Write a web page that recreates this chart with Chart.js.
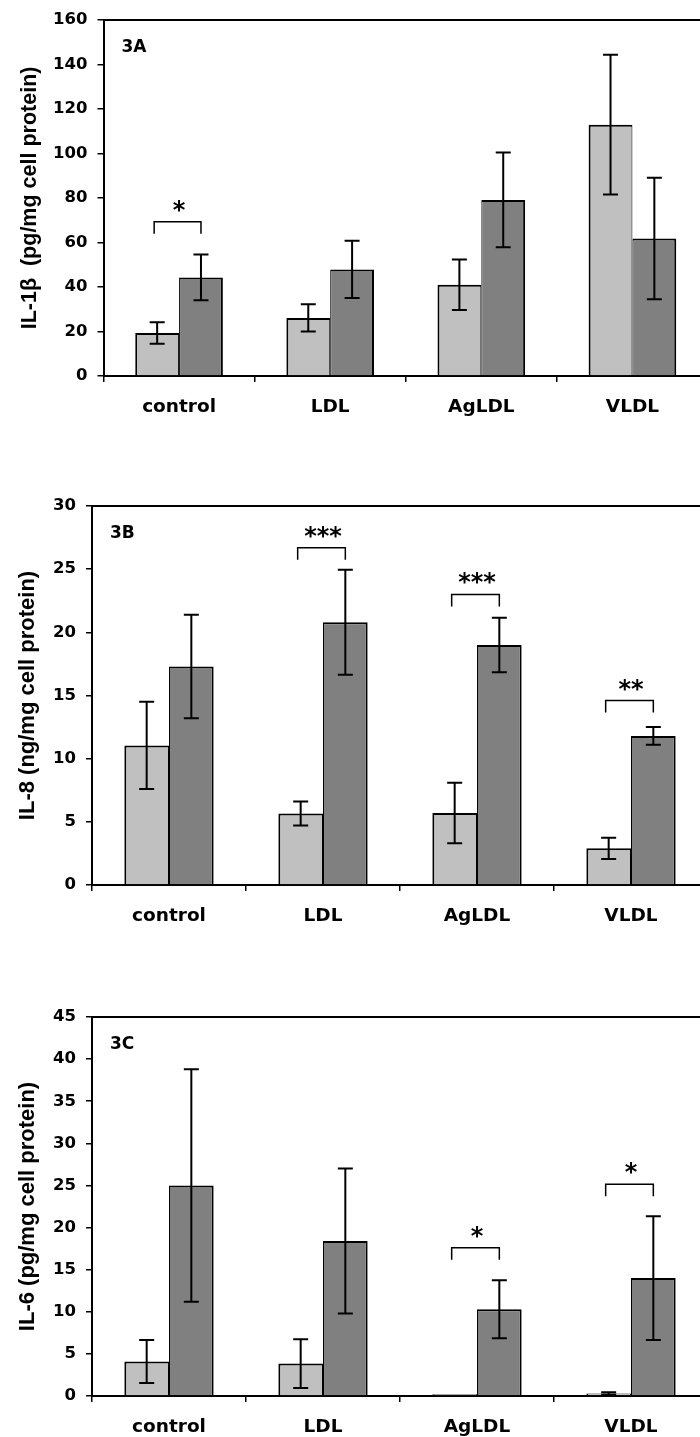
<!DOCTYPE html>
<html>
<head>
<meta charset="utf-8">
<script src="https://cdn.jsdelivr.net/npm/chart.js@4.4.0/dist/chart.umd.min.js"></script>
<style>
  html, body { margin: 0; padding: 0; background: #fff; overflow: hidden; width: 700px; height: 1437px; }
  canvas { position: absolute; left: 0; }
</style>
</head>
<body>
<canvas id="il1b" width="712" height="440" style="top:0px"></canvas>
<canvas id="il8" width="712" height="480" style="top:460px"></canvas>
<canvas id="il6" width="712" height="477" style="top:960px"></canvas>
<script>
const categories = ['control', 'LDL', 'AgLDL', 'VLDL'];

// 3A  IL-1beta
const il1bLight = [19.3, 26.1, 41.0, 112.9];
const il1bLightErr = [4.8, 6.1, 11.4, 31.4];
const il1bDark = [44.3, 47.9, 79.1, 61.8];
const il1bDarkErr = [10.3, 12.9, 21.3, 27.3];
const il1bStars = ['*', '', '', ''];
const il1bBracket = [69.3, null, null, null];

// 3B  IL-8
const il8Light = [11.05, 5.65, 5.7, 2.9];
const il8LightErr = [3.45, 0.95, 2.4, 0.85];
const il8Dark = [17.3, 20.8, 19.0, 11.8];
const il8DarkErr = [4.1, 4.15, 2.15, 0.7];
const il8Stars = ['', '***', '***', '**'];
const il8Bracket = [null, 26.7, 23.0, 14.6];

// 3C  IL-6
const il6Light = [4.1, 3.85, 0.2, 0.3];
const il6LightErr = [2.55, 2.9, 0, 0.15];
const il6Dark = [25.0, 18.4, 10.3, 14.0];
const il6DarkErr = [13.8, 8.6, 3.45, 7.35];
const il6Stars = ['', '', '*', '*'];
const il6Bracket = [null, null, 17.6, 25.15];

Chart.defaults.font.family = '"DejaVu Sans", sans-serif';
Chart.defaults.font.weight = 'bold';
Chart.defaults.color = '#000';

// frame line, error bars, significance brackets and panel label
function extras(stars, brackets, panel) {
  return {
    id: 'extras',
    afterDatasetsDraw(chart) {
      const ctx = chart.ctx;
      const area = chart.chartArea;
      const y = chart.scales.y;
      ctx.save();
      ctx.strokeStyle = '#000';
      ctx.fillStyle = '#000';

      ctx.lineWidth = 2;
      ctx.beginPath();
      ctx.moveTo(area.left, area.top);
      ctx.lineTo(area.right, area.top);
      ctx.stroke();

      ctx.lineWidth = 2;
      chart.data.datasets.forEach((ds, i) => {
        chart.getDatasetMeta(i).data.forEach((bar, j) => {
          const err = ds.errors[j];
          if (!err) return;
          const top = y.getPixelForValue(ds.data[j] + err);
          const bot = y.getPixelForValue(ds.data[j] - err);
          ctx.beginPath();
          ctx.moveTo(bar.x, top);
          ctx.lineTo(bar.x, bot);
          ctx.moveTo(bar.x - 7.5, top);
          ctx.lineTo(bar.x + 7.5, top);
          ctx.moveTo(bar.x - 7.5, bot);
          ctx.lineTo(bar.x + 7.5, bot);
          ctx.stroke();
        });
      });

      const light = chart.getDatasetMeta(0).data;
      const dark = chart.getDatasetMeta(1).data;
      ctx.font = 'bold 24px "DejaVu Sans"';
      ctx.textAlign = 'center';
      ctx.textBaseline = 'alphabetic';
      brackets.forEach((v, j) => {
        if (v === null) return;
        const by = y.getPixelForValue(v);
        const x1 = light[j].x - 3;
        const x2 = dark[j].x;
        ctx.lineWidth = 1.5;
        ctx.beginPath();
        ctx.moveTo(x1, by + 12);
        ctx.lineTo(x1, by);
        ctx.lineTo(x2, by);
        ctx.lineTo(x2, by + 12);
        ctx.stroke();
        ctx.fillText(stars[j], (light[j].x + dark[j].x) / 2, by - 4);
      });

      ctx.font = 'bold 17px "DejaVu Sans"';
      ctx.textAlign = 'left';
      ctx.textBaseline = 'middle';
      ctx.fillText(panel, area.left + 18, area.top + 28);
      ctx.restore();
    }
  };
}

function makeChart(id, light, lightErr, dark, darkErr, yMax, yStep, yTitle, titleSize, pad, axisWidth, titlePad, plugin) {
  return new Chart(document.getElementById(id), {
    type: 'bar',
    data: {
      labels: categories,
      datasets: [
        { label: 'Series 1', data: light, errors: lightErr, backgroundColor: '#c0c0c0', borderColor: '#000',
          borderWidth: { top: 2, left: 2, right: 1, bottom: 0 } },
        { label: 'Series 2', data: dark, errors: darkErr, backgroundColor: '#808080', borderColor: '#000',
          borderWidth: { top: 2, left: 1, right: 2, bottom: 0 } }
      ]
    },
    options: {
      responsive: false,
      animation: false,
      devicePixelRatio: 1,
      categoryPercentage: 0.58,
      barPercentage: 1.0,
      layout: { padding: pad },
      plugins: { legend: { display: false }, tooltip: { enabled: false } },
      scales: {
        x: {
          grid: { drawOnChartArea: false, drawTicks: true, tickLength: 6, color: '#000', lineWidth: 1.5, offset: true },
          border: { color: '#000', width: 2 },
          ticks: { color: '#000', font: { size: 18.5, weight: 'bold' }, padding: 14 },
          afterFit: s => { s.height = 41; }
        },
        y: {
          min: 0,
          max: yMax,
          ticks: { stepSize: yStep, color: '#000', font: { size: 16.5, weight: 'bold' }, padding: 10 },
          grid: { drawOnChartArea: false, drawTicks: true, tickLength: 6, color: '#000', lineWidth: 1.5 },
          border: { color: '#000', width: 2 },
          title: { display: true, text: yTitle, color: '#000',
                   font: { family: '"Liberation Sans", Arial, sans-serif', size: titleSize, weight: 'bold' },
                   padding: { top: titlePad, bottom: 0 } },
          afterFit: s => { s.width = axisWidth; }
        }
      }
    },
    plugins: [plugin]
  });
}

makeChart('il1b', il1bLight, il1bLightErr, il1bDark, il1bDarkErr, 160, 20,
  'IL-1\u03b2  (pg/mg cell protein)', 21.5, { top: 18, bottom: 23, left: 0, right: 4 }, 103.5, 17,
  extras(il1bStars, il1bBracket, '3A'));

makeChart('il8', il8Light, il8LightErr, il8Dark, il8DarkErr, 30, 5,
  'IL-8 (ng/mg cell protein)', 22, { top: 46, bottom: 14, left: 0, right: 4 }, 92, 14.5,
  extras(il8Stars, il8Bracket, '3B'));

makeChart('il6', il6Light, il6LightErr, il6Dark, il6DarkErr, 45, 5,
  'IL-6 (pg/mg cell protein)', 22, { top: 57, bottom: 0, left: 0, right: 4 }, 92, 14.5,
  extras(il6Stars, il6Bracket, '3C'));
</script>
</body>
</html>
